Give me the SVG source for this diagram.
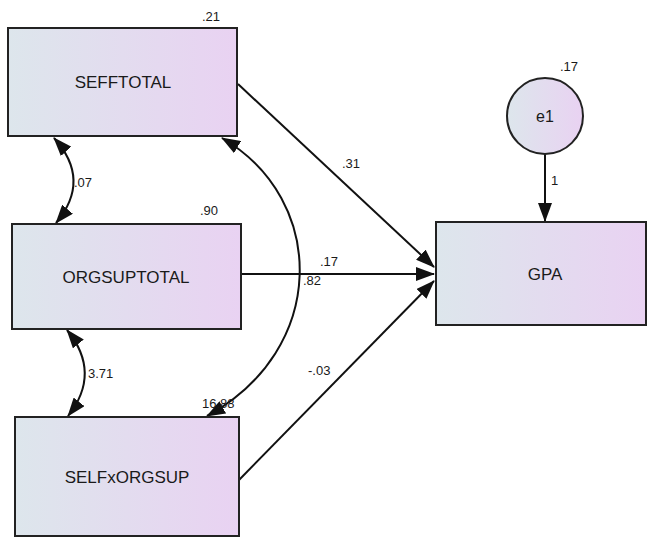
<svg xmlns="http://www.w3.org/2000/svg" width="648" height="537" viewBox="0 0 648 537">
<defs>
<linearGradient id="g" x1="0" y1="0" x2="1" y2="0">
<stop offset="0" stop-color="#dde6ec"/>
<stop offset="1" stop-color="#e9d2f2"/>
</linearGradient>
<marker id="ah" markerUnits="userSpaceOnUse" markerWidth="19" markerHeight="14" refX="18" refY="7" orient="auto-start-reverse" viewBox="0 0 19 14">
<path d="M0,0 L19,7 L0,14 z" fill="#111"/>
</marker>
<style>
.box{fill:url(#g);stroke:#222;stroke-width:2}
.lbl{font-family:"Liberation Sans",Arial,sans-serif;font-size:17px;fill:#1a1a1a;text-anchor:middle}
.num{font-family:"Liberation Sans",Arial,sans-serif;font-size:13px;fill:#1a1a1a}
.c{fill:none;stroke:#111;stroke-width:2}
</style>
</defs>
<rect width="648" height="537" fill="#fff"/>
<g id="connectors">
<path class="c" d="M238,84 L434,267" marker-end="url(#ah)"/>
<path class="c" d="M241,274 L434,274" marker-end="url(#ah)"/>
<path class="c" d="M239,480 L434,281" marker-end="url(#ah)"/>
<path class="c" d="M545,154 L545,221" marker-end="url(#ah)"/>
<path class="c" d="M54,138 Q92,180 56,223" marker-start="url(#ah)" marker-end="url(#ah)"/>
<path class="c" d="M67,330 Q102,373 68,416" marker-start="url(#ah)" marker-end="url(#ah)"/>
<path class="c" d="M222,138 C328,200 328,350 207,416" marker-start="url(#ah)" marker-end="url(#ah)"/>
<text class="num" x="342" y="168">.31</text>
<text class="num" x="320" y="266">.17</text>
<text class="num" x="303" y="285">.82</text>
<text class="num" x="308" y="375">-.03</text>
<text class="num" x="551" y="185">1</text>
<text class="num" x="74" y="187">.07</text>
<text class="num" x="88" y="378">3.71</text>
</g>
<g id="SEFFTOTAL">
<rect class="box" x="8" y="28" width="229" height="108"/>
<text class="lbl" x="123" y="88">SEFFTOTAL</text>
<text class="num" x="202" y="21">.21</text>
</g>
<g id="ORGSUPTOTAL">
<rect class="box" x="12" y="224" width="229" height="105"/>
<text class="lbl" x="126" y="283">ORGSUPTOTAL</text>
<text class="num" x="200" y="215">.90</text>
</g>
<g id="SELFxORGSUP">
<rect class="box" x="15" y="417" width="224" height="119"/>
<text class="lbl" x="127" y="483">SELFxORGSUP</text>
<text class="num" x="202" y="408">16.88</text>
</g>
<g id="GPA">
<rect class="box" x="436" y="222" width="210" height="103"/>
<text class="lbl" x="545" y="280">GPA</text>
</g>
<g id="e1">
<circle cx="545" cy="116" r="38" fill="url(#g)" stroke="#222" stroke-width="2"/>
<text class="lbl" x="545" y="122" style="font-size:16px">e1</text>
<text class="num" x="560" y="71">.17</text>
</g>
</svg>
